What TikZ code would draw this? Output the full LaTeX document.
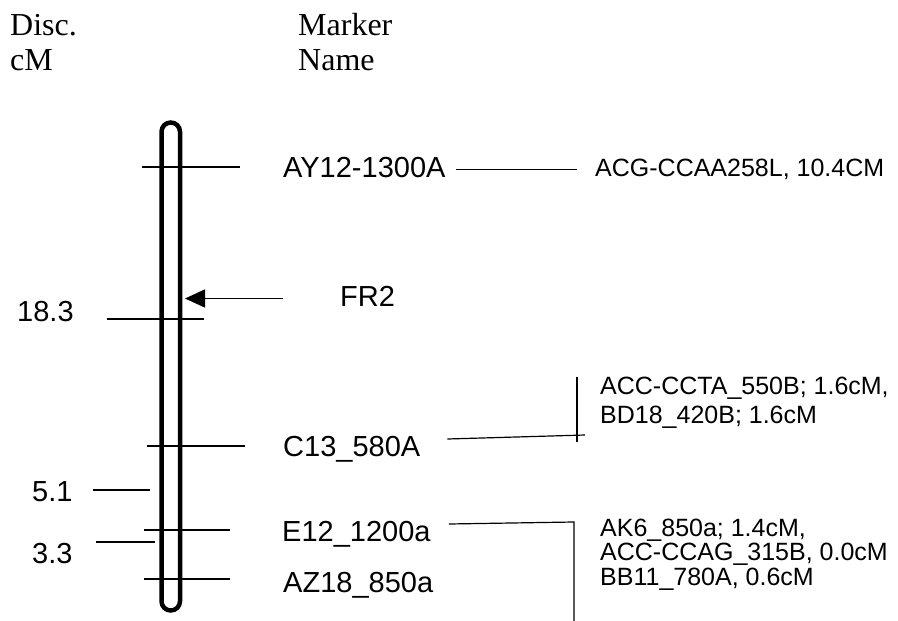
\documentclass[tikz,border=0pt]{standalone}
\usepackage{fontspec}
\setmainfont{Liberation Sans}
\newfontfamily\headfont{Liberation Serif}
\usepackage{tikz}
\usetikzlibrary{arrows.meta,calc,positioning}

\begin{document}
\begin{tikzpicture}[x=1pt,y=-1pt,
          head/.style={anchor=base west, inner sep=0pt, font=\headfont\fontsize{32}{35}\selectfont},
          lbl/.style={anchor=base west, inner sep=0pt, text height=21pt, text depth=6pt, font=\fontsize{29}{34}\selectfont},
          note/.style={anchor=base west, inner sep=0pt, align=left, font=\fontsize{25}{29}\selectfont},
          chrom/.style={draw, line width=4.5pt, rounded corners=9.25pt, minimum width=18.5pt, minimum height=488pt, inner sep=0pt},
          band/.style={line width=1.8pt},
          link/.style={line width=1.2pt},
          pointer/.style={-{Triangle[length=20pt,width=18pt]}, line width=1.5pt}
        ]
          \useasboundingbox (0,0) rectangle (898,621);
          % headings
          \node[head] (disc) at (10,35) {Disc.};
          \node[head] (cm) at (10,70) {cM};
          \node[head] (marker) at (298,35) {Marker};
          \node[head] (name) at (298,70) {Name};
          % chromosome and bands
          \node[chrom] (chr) at (170.75,366.5) {};
          \draw[band] (142,167) -- (240,167);
          \draw[band] (107,319) -- (204,319);
          \draw[band] (147,446) -- (245,446);
          \draw[band] (93,490) -- (150,490);
          \draw[band] (144,530) -- (230,530);
          \draw[band] (96,542) -- (155,542);
          \draw[band] (144,579) -- (230,579);
          % distances and markers
          \node[lbl] (ay12) at (283,177) {AY12-1300A};
          \node[lbl] (fr2) at (340,306) {FR2};
          \node[lbl] (d183) at (17,321) {18.3};
          \node[lbl] (c13) at (283,456) {C13\_580A};
          \node[lbl] (d51) at (32,501) {5.1};
          \node[lbl] (e12) at (282,541) {E12\_1200a};
          \node[lbl] (d33) at (32,563) {3.3};
          \node[lbl] (az18) at (283,592) {AZ18\_850a};
          % linked markers (base = last line)
          \node[note] (acg) at (595,176) {ACG-CCAA258L, 10.4CM};
          \node[note] (ccta) at (600,423) {ACC-CCTA\_550B; 1.6cM,\\BD18\_420B; 1.6cM};
          \node[note, font=\fontsize{25}{24.5}\selectfont] (ak6) at (600,585) {AK6\_850a; 1.4cM,\\ACC-CCAG\_315B, 0.0cM\\BB11\_780A, 0.6cM};
          \coordinate (cctaTop) at (577,377);
          \coordinate (cctaBot) at (577,442);
          \coordinate (cctaEnd) at (585,435);
          \coordinate (ak6Top) at (574,522);
          \coordinate (ak6Bot) at (574,621);
          \draw[pointer, shorten <=57pt, shorten >=2.75pt] (fr2.west) -- (fr2.west -| chr.east);
          \draw[link, shorten <=10pt, shorten >=18pt] (ay12.east) -- (ay12.east -| acg.west);
          \draw[link] (cctaTop) -- (cctaBot);
          \draw[link] ([xshift=27pt,yshift=9.5pt]c13.east) -- (cctaEnd);
          \draw[link] ([xshift=18pt,yshift=9.5pt]e12.east) -- (ak6Top) -- (ak6Bot);
        \end{tikzpicture}
\end{document}
